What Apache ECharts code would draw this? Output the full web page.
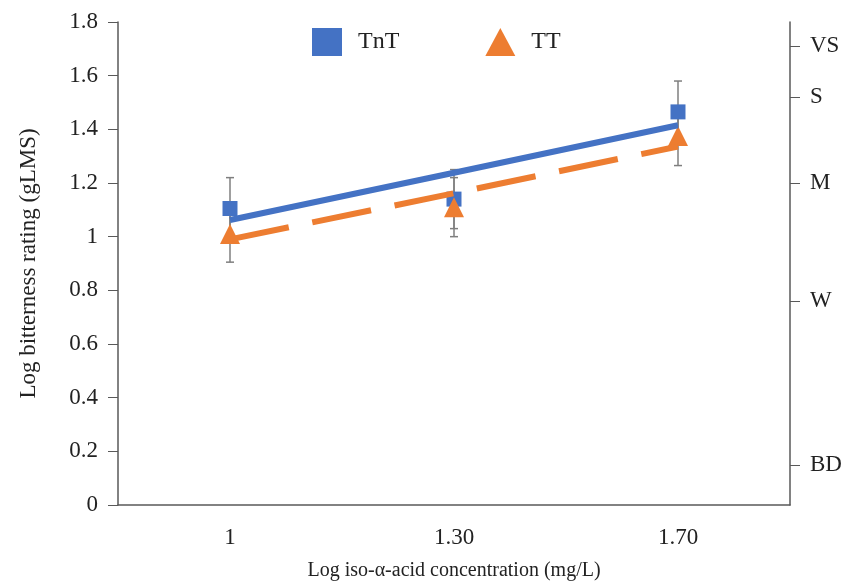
<!DOCTYPE html>
<html>
<head>
<meta charset="utf-8">
<script src="https://cdn.jsdelivr.net/npm/echarts@6/dist/echarts.min.js"></script>
<style>
  html, body { margin: 0; padding: 0; background: #fff; }
  #chart { width: 858px; height: 586px; }
</style>
</head>
<body>
<div id="chart"></div>
<script>
// x categories (log iso-alpha-acid concentration)
const categories = ['1', '1.30', '1.70']

// mean log bitterness ratings and their error half-widths
const tntMeans = [1.105, 1.14, 1.465]
const tntErrors = [0.115, 0.11, 0.115]
const ttMeans = [1.01, 1.11, 1.375]
const ttErrors = [0.105, 0.11, 0.11]

// linear trend lines as drawn in the figure
const tntTrend = [1.062, 1.238, 1.415]
const ttTrend = [0.99, 1.162, 1.336]

// right axis: gLMS verbal labels at their log positions
const glmsLabels = ['BD', 'W', 'M', 'S', 'VS']
const glmsValues = [0.15, 0.76, 1.2, 1.52, 1.71]

const BLUE = '#4472C4'
const ORANGE = '#ED7D31'
const GREY = '#7f7f7f'
const AXIS = '#595959'
const FONT = '"Liberation Serif", "Times New Roman", serif'

const errorData = (means, errs) => means.map((m, i) => [i, m - errs[i], m + errs[i]])

const renderErrorBar = (params, api) => {
  const x = api.value(0)
  const lo = api.coord([x, api.value(1)])
  const hi = api.coord([x, api.value(2)])
  const cap = 4
  const style = { stroke: GREY, lineWidth: 1.5 }
  return {
    type: 'group',
    children: [
      { type: 'line', shape: { x1: lo[0], y1: lo[1], x2: hi[0], y2: hi[1] }, style },
      { type: 'line', shape: { x1: lo[0] - cap, y1: lo[1], x2: lo[0] + cap, y2: lo[1] }, style },
      { type: 'line', shape: { x1: hi[0] - cap, y1: hi[1], x2: hi[0] + cap, y2: hi[1] }, style }
    ]
  }
}

const chart = echarts.init(document.getElementById('chart'))

chart.setOption({
  animation: false,
  textStyle: { fontFamily: FONT, color: '#222' },
  grid: { left: 118, right: 68, top: 22, bottom: 81, containLabel: false },
  legend: {
    top: 28,
    left: 312,
    padding: 0,
    itemWidth: 30,
    itemHeight: 28,
    itemGap: 86,
    textStyle: { fontFamily: FONT, fontSize: 24, color: '#222', padding: [2, 0, 0, 11] },
    data: [
      { name: 'TnT', icon: 'rect', itemStyle: { color: BLUE, opacity: 1 } },
      { name: 'TT', icon: 'triangle', itemStyle: { color: ORANGE, opacity: 1 } }
    ]
  },
  xAxis: {
    type: 'category',
    data: categories,
    boundaryGap: true,
    name: 'Log iso-\u03b1-acid concentration (mg/L)',
    nameLocation: 'middle',
    nameGap: 56,
    nameTextStyle: { fontFamily: FONT, fontSize: 20, color: '#222' },
    axisLine: { lineStyle: { color: AXIS, width: 1.5 } },
    axisTick: { show: false },
    axisLabel: { fontFamily: FONT, fontSize: 23, color: '#222', margin: 21 },
    splitLine: { show: false }
  },
  yAxis: [
    {
      type: 'value',
      min: 0,
      max: 1.8,
      interval: 0.2,
      name: 'Log bitterness rating (gLMS)',
      nameLocation: 'middle',
      nameGap: 78,
      nameTextStyle: { fontFamily: FONT, fontSize: 23, color: '#222' },
      axisLine: { show: true, lineStyle: { color: AXIS, width: 1.5 } },
      axisTick: { show: true, length: 10, lineStyle: { color: AXIS } },
      axisLabel: {
        fontFamily: FONT, fontSize: 23, color: '#222', margin: 20,
        formatter: v => (Math.round(v * 10) / 10).toString()
      },
      splitLine: { show: false }
    },
    {
      type: 'value',
      position: 'right',
      min: 0,
      max: 1.8,
      axisLine: { show: true, lineStyle: { color: AXIS, width: 1.5 } },
      axisTick: { show: true, length: 10, customValues: glmsValues, lineStyle: { color: AXIS } },
      axisLabel: {
        fontFamily: FONT, fontSize: 23, color: '#222', margin: 20,
        customValues: glmsValues,
        formatter: v => glmsLabels[glmsValues.indexOf(v)] || ''
      },
      splitLine: { show: false }
    }
  ],
  series: [
    {
      name: 'TnT',
      type: 'scatter',
      data: tntMeans,
      symbol: 'rect',
      symbolSize: 15,
      itemStyle: { color: BLUE, opacity: 1 },
      z: 3
    },
    {
      name: 'TT',
      type: 'scatter',
      data: ttMeans,
      symbol: 'triangle',
      symbolSize: 20,
      itemStyle: { color: ORANGE, opacity: 1 },
      z: 3
    },
    {
      name: 'TnT error',
      type: 'custom',
      data: errorData(tntMeans, tntErrors),
      renderItem: renderErrorBar,
      z: 2
    },
    {
      name: 'TT error',
      type: 'custom',
      data: errorData(ttMeans, ttErrors),
      renderItem: renderErrorBar,
      z: 2
    },
    {
      name: 'TnT trend',
      type: 'line',
      data: tntTrend,
      symbol: 'none',
      lineStyle: { color: BLUE, width: 6 },
      z: 4
    },
    {
      name: 'TT trend',
      type: 'line',
      data: ttTrend,
      symbol: 'none',
      lineStyle: { color: ORANGE, width: 6, type: [60, 24], cap: 'butt' },
      z: 4
    }
  ]
})
</script>
</body>
</html>
